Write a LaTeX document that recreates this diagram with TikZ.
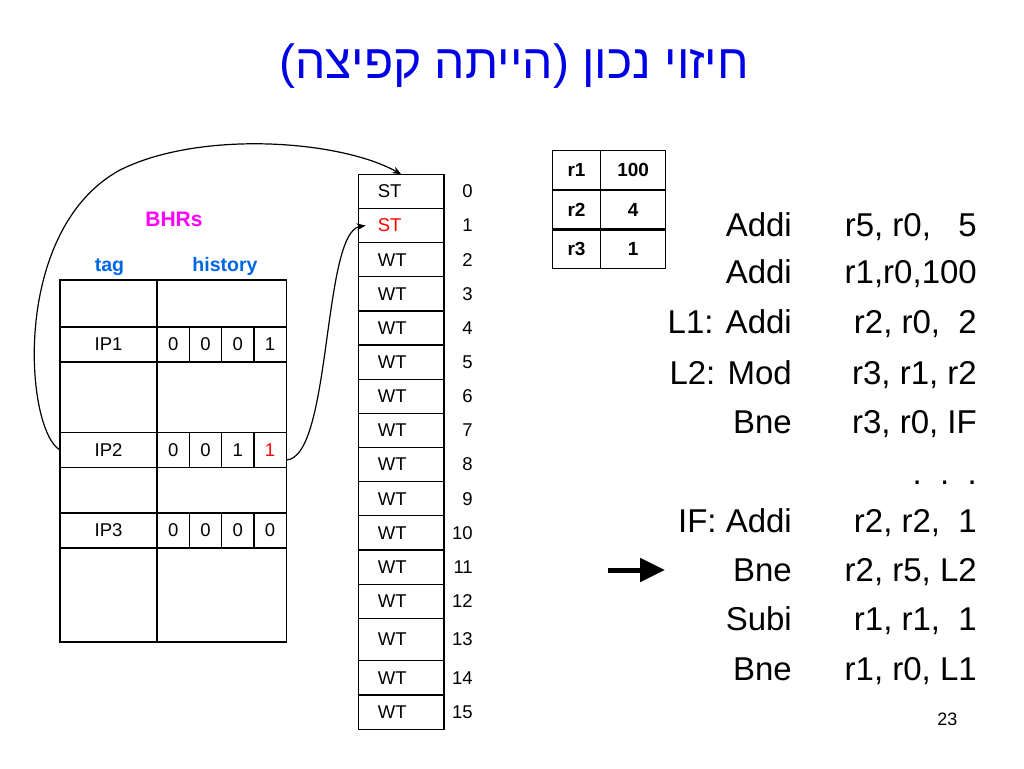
\documentclass[tikz,border=0pt]{standalone}
\usepackage{fontspec}
\setmainfont{Liberation Sans}
\newfontfamily\hebfont[Script=Hebrew]{Liberation Sans}
\TeXXeTstate=1
\usepackage{tikz}
\usetikzlibrary{arrows.meta, positioning}
\definecolor{titleblue}{RGB}{0,0,230}
\definecolor{colblue}{RGB}{0,102,230}
\definecolor{bhrpink}{RGB}{255,0,255}
\newcommand{\hot}[1]{\textcolor{red}{#1}}
\newcommand{\px}[1]{\fontsize{#1}{#1}\selectfont}
\newcommand{\emptySlot}[2]{
	\draw[tbl] (60,#1) rectangle (157,#2);
	\draw[tbl] (157,#1) rectangle (286.3,#2);
}
\newcommand{\bhrEntry}[3]{
	\node[tagcell] (ip#1) at (108.5,#2) {IP#1};
	\foreach \b [count=\c] in {#3}
		\node[bitcell] (h#1\c) at (140.85+32.3*\c,#2) {\b};
}
\tikzset{
	tbl/.style={line width=1.2pt},
	tagcell/.style={draw, tbl, minimum width=97pt, minimum height=35pt, inner sep=0pt, outer sep=0pt, font=\px{18.5}},
	bitcell/.style={tagcell, minimum width=32.3pt},
	ctr/.style={draw, tbl, minimum width=85.3pt, text width=47pt, align=left, inner sep=0pt, outer sep=0pt, font=\px{18.5}},
	idx/.style={anchor=east, inner sep=0pt, font=\px{18.5}},
	reg/.style={draw, tbl, minimum height=38.5pt, inner sep=0pt, outer sep=0pt, font=\bfseries\px{19}},
	code/.style={anchor=base east, inner sep=0pt, font=\px{33}},
	link/.style={line width=1.2pt, -{Stealth[length=9pt,width=7pt]}},
}

\begin{document}
\begin{tikzpicture}[x=1pt, y=-1pt]
	\useasboundingbox (0,0) rectangle (1024,768);
	\node[font=\hebfont\px{48}, text=titleblue, anchor=base] (title) at (514,78) {\beginR חיזוי נכון (הייתה קפיצה)\endR};
	% BHR table
	\node[font=\bfseries\px{21}, text=bhrpink, anchor=base] (bhrs) at (174,226) {BHRs};
	\node[font=\bfseries\px{19.5}, text=colblue, anchor=base] (tag) at (109.5,271.7) {tag};
	\node[font=\bfseries\px{19.5}, text=colblue, anchor=base] (history) at (225,271.7) {history};
	\emptySlot{280}{327}
	\emptySlot{362}{432.5}
	\emptySlot{467.5}{513}
	\emptySlot{548}{642}
	\bhrEntry{1}{344.5}{0,0,0,1}
	\bhrEntry{2}{450}{0,0,1,\hot{1}}
	\bhrEntry{3}{530.5}{0,0,0,0}
	% prediction counters
	\node[ctr, minimum height=34.15pt] (c0) at (401.3,191.4) {ST};
	\foreach \i/\st/\hh in {1/\hot{ST}/34.15, 2/WT/34.15, 3/WT/34.15, 4/WT/34.15, 5/WT/34.15, 6/WT/34.15, 7/WT/34.15, 8/WT/34.15, 9/WT/34.15, 10/WT/34.15, 11/WT/34.15, 12/WT/34.15, 13/WT/42.4, 14/WT/34.3, 15/WT/34.3} {
		\pgfmathtruncatemacro\j{\i-1}
		\node[ctr, minimum height=\hh pt, below=0pt of c\j] (c\i) {\st};
	}
	\foreach \i in {0,...,15}
		\node[idx] (n\i) at ([xshift=29pt]c\i.east) {\i};
	% registers
	\foreach \i/\v in {1/100, 2/4, 3/1} {
		\node[reg, minimum width=48.4pt] (r\i) at (576.5,130.5+39.6*\i) {r\i};
		\node[reg, minimum width=65pt, right=0pt of r\i] (v\i) {\v};
	}
	% code
	\foreach \yy/\op/\args [count=\k] in {236/Addi/{r5, r0,\ \ \ 5}, 283/Addi/{r1,r0,100}, 333/{L1: Addi}/{r2, r0,\ \ 2}, 384/{L2: Mod}/{r3, r1, r2}, 433/{Bne\ }/{r3, r0, IF}, 532/{IF: Addi}/{r2, r2,\ \ 1}, 581.5/Bne/{r2, r5, L2}, 630.5/Subi/{r1, r1,\ \ 1}, 680/Bne/{r1, r0, L1}} {
		\node[code] (op\k) at (792,\yy) {\op};
		\node[code] (arg\k) at (977,\yy) {\args};
	}
	\node[code] (dots) at (977,484) {.\ \ .\ \ .};
	\coordinate (ptrtail) at (608,570);
	\coordinate (ptrhead) at (665,570);
	\draw[line width=5pt, -{Triangle[length=25pt,width=23pt]}] (ptrtail) -- (ptrhead);
	\node[anchor=base east, font=\px{18}] (pagenum) at (961,725) {23};
	% links
	\draw[link] (ip2.west) .. controls (25,430) and (10,230) .. (120,170) .. controls (200,130) and (340,140) .. (c0.north);
	\draw[link] ([yshift=-10pt]h24.east) .. controls (332,458) and (322,232) .. ([xshift=7pt]c1.west);
\end{tikzpicture}
\end{document}
